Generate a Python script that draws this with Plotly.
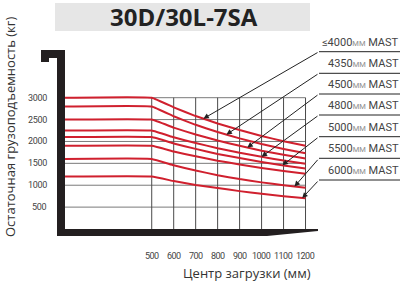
import numpy as np
import plotly.graph_objects as go

# ---------------- data ----------------
chart_title = "30D/30L-7SA"
y_title = "Остаточная грузоподъемность (кг)"
x_title = "Центр загрузки (мм)"

load_centers = [100, 500, 600, 700, 800, 900, 1000, 1100, 1200]
cap_1 = [3000, 3000, 2780, 2580, 2410, 2260, 2125, 2005, 1900]
cap_2 = [2800, 2800, 2575, 2380, 2215, 2070, 1940, 1830, 1730]
cap_3 = [2500, 2500, 2315, 2160, 2020, 1900, 1790, 1695, 1610]
cap_4 = [2250, 2250, 2095, 1965, 1845, 1740, 1650, 1565, 1490]
cap_5 = [2100, 2100, 1955, 1830, 1715, 1620, 1530, 1450, 1380]
cap_6 = [1900, 1900, 1770, 1660, 1560, 1475, 1395, 1325, 1260]
cap_7 = [1600, 1600, 1455, 1335, 1230, 1140, 1065, 1000, 940]
cap_8 = [1200, 1200, 1095, 1005, 935, 865, 805, 750, 700]
curves = [cap_1, cap_2, cap_3, cap_4, cap_5, cap_6, cap_7, cap_8]

mast_labels = ["≤4000", "4350", "4500", "4800", "5000", "5500", "6000"]
x_ticks = [500, 600, 700, 800, 900, 1000, 1100, 1200]
y_ticks = [500, 1000, 1500, 2000, 2500, 3000]

# ---------------- layout / geometry ----------------
W, H = 400, 283
X0, X1 = -190.5, 1630.0
Y0, Y1 = -1234.0, 5232.0

def px2x(px):
    return X0 + px / W * (X1 - X0)

def py2y(py):
    return Y1 - py / H * (Y1 - Y0)

def pp(px, py):
    return px / W, 1 - py / H

RED = "#d0202e"
GRID = "#4a4a4a"
DARK = "#231f20"

fig = go.Figure()

for c in curves:
    fig.add_trace(go.Scatter(x=load_centers, y=c, mode="lines",
                             line=dict(color=RED, width=2, shape="spline", smoothing=0.25),
                             hoverinfo="skip", showlegend=False))

shapes = []
# horizontal grid
for v in y_ticks:
    shapes.append(dict(type="line", xref="x", yref="y", x0=load_centers[0], x1=x_ticks[-1],
                       y0=v, y1=v, line=dict(color="#7a7a7a", width=1), layer="below"))
# vertical grid
for v in x_ticks:
    shapes.append(dict(type="line", xref="x", yref="y", x0=v, x1=v, y0=0, y1=y_ticks[-1],
                       line=dict(color=GRID, width=1), layer="below"))

# title box
bx0, by0 = pp(55, 3)
bx1, by1 = pp(310, 31)
shapes.append(dict(type="rect", xref="paper", yref="paper", x0=bx0, x1=bx1, y0=by1, y1=by0,
                   fillcolor="#e6e6e6", line=dict(width=0), layer="below"))

# fork shape
pts = [(41, 50), (65, 50), (65, 229), (318, 229), (318, 231), (267, 236), (57, 236),
       (57, 58), (49, 58), (49, 62), (41, 62)]
path = ""
for i, (a, b) in enumerate(pts):
    xx, yy = pp(a, b)
    path += ("M" if i == 0 else "L") + f"{xx:.5f},{yy:.5f} "
path += "Z"
shapes.append(dict(type="path", xref="paper", yref="paper", path=path,
                   fillcolor=DARK, line=dict(width=0), layer="above"))

annotations = []
# title
tx, ty = pp(184, 17)
annotations.append(dict(text=f"<b>{chart_title}</b>", x=tx, y=ty, xref="paper", yref="paper",
                        xanchor="center", yanchor="middle",
                        showarrow=False, font=dict(family="Open Sans", size=24, color="#222")))
# axis titles
ax_, ay_ = pp(10, 127)
annotations.append(dict(text=y_title, x=ax_, y=ay_, xref="paper", yref="paper", textangle=-90,
                        xanchor="center", yanchor="middle",
                        showarrow=False, font=dict(family="Open Sans", size=13, color="#333")))
ax_, ay_ = pp(247, 273)
annotations.append(dict(text=x_title, x=ax_, y=ay_, xref="paper", yref="paper",
                        xanchor="center", yanchor="middle",
                        showarrow=False, font=dict(family="Open Sans", size=13, color="#333")))
# tick labels
tickfont = dict(family="Roboto, sans-serif", size=9, color="#444")
for v in x_ticks:
    annotations.append(dict(text=f"<span style='letter-spacing:-0.5px'>{v}</span>",
                            x=v, y=pp(0, 256)[1], xref="x", yref="paper",
                            xanchor="center", yanchor="middle",
                            showarrow=False, font=tickfont))
for v in y_ticks:
    annotations.append(dict(text=f"<span style='letter-spacing:-0.3px'>{v}</span>",
                            x=pp(49, 0)[0], y=v, xref="paper", yref="y",
                            xanchor="right", yanchor="middle", showarrow=False, font=tickfont))

# mast labels with leader lines and arrows
label_line_py = [51.7, 73.3, 94, 115, 136.7, 158.3, 180]
arrow_targets = [(0, 735), (1, 840), (2, 935), (3, 1000), (4, 1095), (6, 1150), (7, 1185)]
tail_px = 319
for lab, lpy, (ci, lc) in zip(mast_labels, label_line_py, arrow_targets):
    ly = py2y(lpy)
    shapes.append(dict(type="line", xref="x", yref="y", x0=px2x(tail_px), x1=px2x(400),
                       y0=ly, y1=ly, line=dict(color="#222", width=1)))
    ty_ = float(np.interp(lc, load_centers, curves[ci]))
    annotations.append(dict(text="", x=lc, y=ty_, xref="x", yref="y",
                            ax=px2x(tail_px), ay=ly, axref="x", ayref="y",
                            showarrow=True, arrowhead=2, arrowsize=1.1, arrowwidth=1,
                            arrowcolor="#222", standoff=0))
    annotations.append(dict(text=f"{lab}<span style='font-size:7.5px;color:#8c8c8c'>ММ</span> MAST",
                            x=pp(401, 0)[0], y=ly, xref="paper", yref="y",
                            xanchor="right", yanchor="bottom", yshift=1, showarrow=False,
                            font=dict(family="Roboto, sans-serif", size=11, color="#444")))

fig.update_layout(
    width=W, height=H, autosize=False,
    margin=dict(l=0, r=0, t=0, b=0),
    paper_bgcolor="white", plot_bgcolor="white",
    xaxis=dict(range=[X0, X1], visible=False, fixedrange=True),
    yaxis=dict(range=[Y0, Y1], visible=False, fixedrange=True),
    shapes=shapes, annotations=annotations, showlegend=False,
)

fig.write_html("out.html")
